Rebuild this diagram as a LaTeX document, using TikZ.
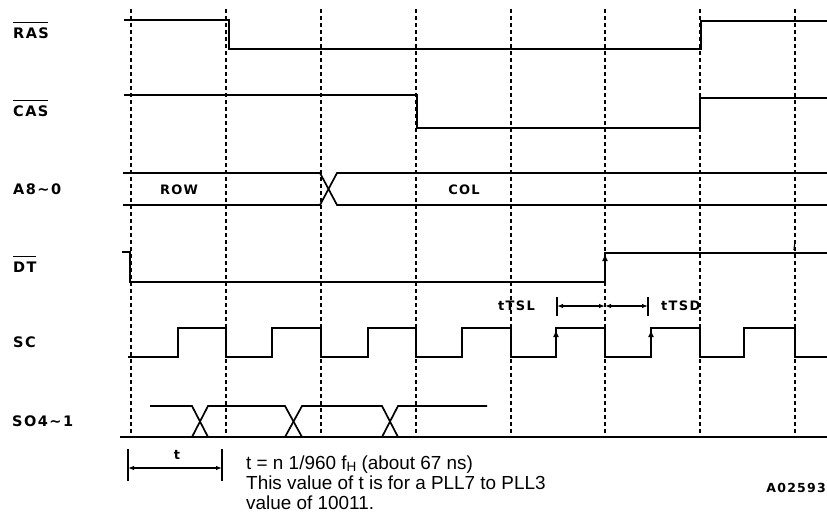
\documentclass[tikz,border=0pt]{standalone}
\usepackage{fontspec}
\setmainfont{Liberation Sans}
\newfontfamily\lblfont[LetterSpace=10]{DejaVu Sans}
\usetikzlibrary{arrows.meta}
\tikzset{
  sig/.style={line width=1.7pt, line join=miter, line cap=butt},
  gridline/.style={line width=1.4pt, dash pattern=on 4pt off 3pt},
  lbl/.style={font=\lblfont\bfseries\fontsize{14.5}{15}\selectfont, inner sep=0pt, anchor=west},
  tag/.style={font=\lblfont\bfseries\fontsize{13}{13}\selectfont, inner sep=0pt},
  note/.style={font=\fontsize{18.9}{20}\selectfont, inner sep=0pt, anchor=base west},
  ovl/.style={line width=1.3pt},
  dim/.style={line width=1.1pt, {Latex[length=6pt,width=4.5pt]}-{Latex[length=6pt,width=4.5pt]}},
  bar/.style={line width=1.5pt},
  edgetip/.style={line width=1.7pt, -{Latex[length=7pt,width=6pt]}}
}
\begin{document}
\begin{tikzpicture}[x=1pt,y=-1pt]
\useasboundingbox (0,0) rectangle (827,517);
\fill[white] (0,0) rectangle (827,517);

% vertical dashed time lines
\foreach \x in {131,226,321,416,511,605,700,795}
  \draw[gridline] (\x,9) -- (\x,437);

% signal labels
\node[lbl] (ras) at (13,33) {RAS};
\node[lbl] (cas) at (13,111) {CAS};
\node[lbl] (addr) at (13,189) {A8\textasciitilde0};
\node[lbl] (dt) at (13,267) {DT};
\node[lbl] (sc) at (13,342) {SC};
\node[lbl] (so) at (12,421) {SO4\textasciitilde1};
\foreach \n in {ras,cas,dt}
  \draw[ovl] ([yshift=5pt]\n.north west) -- ([yshift=5pt,xshift=-1pt]\n.north east);

% RAS
\draw[sig] (124,20) -- (229,20) -- (229,49) -- (701,49) -- (701,21) -- (827,21);
% CAS
\draw[sig] (124,95) -- (417,95) -- (417,128) -- (700,128) -- (700,98) -- (827,98);
% A8~0
\draw[sig] (123,173) -- (320,173) -- (337,205) -- (827,205);
\draw[sig] (123,205) -- (320,205) -- (337,173) -- (827,173);
\node[tag] (row) at (179,190) {ROW};
\node[tag] (col) at (464,190) {COL};
% DT
\draw[sig] (122,252) -- (130,252) -- (130,282) -- (605,282) -- (605,253) -- (827,253);
\draw[edgetip] (605,272) -- (605,254);
\draw[line width=1.2pt] (795,241) -- (794,250);
% SC
\draw[sig] (128,357) -- (178,357) -- (178,328) -- (226,328) -- (226,357)
  -- (272,357) -- (272,328) -- (321,328) -- (321,357)
  -- (368,357) -- (368,328) -- (416,328) -- (416,357)
  -- (462,357) -- (462,328) -- (511,328) -- (511,357)
  -- (556,357) -- (556,328) -- (605,328) -- (605,357)
  -- (651,357) -- (651,328) -- (700,328) -- (700,357)
  -- (744,357) -- (744,328) -- (795,328) -- (795,357) -- (827,357);
\draw[edgetip] (556,348) -- (556,330);
\draw[edgetip] (651,348) -- (651,330);
% SO4~1
\draw[sig] (120,437) -- (827,437);
\draw[sig] (150,406) -- (192,406) -- (208,437);
\draw[sig] (192,437) -- (208,406) -- (285,406) -- (302,437);
\draw[sig] (285,437) -- (302,406) -- (382,406) -- (398,437);
\draw[sig] (382,437) -- (398,406) -- (487,406);

% tTSL / tTSD
\node[tag, anchor=west] (tsl) at (498,306) {tTSL};
\node[tag, anchor=west] (tsd) at (661,306) {tTSD};
\coordinate (d1) at (557,306);
\coordinate (d2) at (605,306);
\coordinate (d3) at (648,306);
\draw[bar] (557,297) -- (557,316);
\draw[bar] (648,297) -- (648,316);
\draw[dim] (d1) -- (d2);
\draw[dim] (d2) -- (d3);

% t dimension
\draw[bar] (128,449) -- (128,481);
\draw[bar] (222,449) -- (222,481);
\coordinate (t1) at (128,468);
\coordinate (t2) at (222,468);
\draw[dim] (t1) -- (t2);
\node[tag] (tlbl) at (177,455) {t};

% note
\node[note] (n1) at (246,469) {t = n 1/960 f\raisebox{-0.22ex}{\fontsize{13.5}{14}\selectfont H} (about 67 ns)};
\node[note] (n2) at (246,489.5) {This value of t is for a PLL7 to PLL3};
\node[note] (n3) at (246,509.5) {value of 10011.};

\node[tag, anchor=east, font=\lblfont\bfseries\fontsize{12.5}{13}\selectfont] (code) at (826,488) {A02593};
\end{tikzpicture}
\end{document}
